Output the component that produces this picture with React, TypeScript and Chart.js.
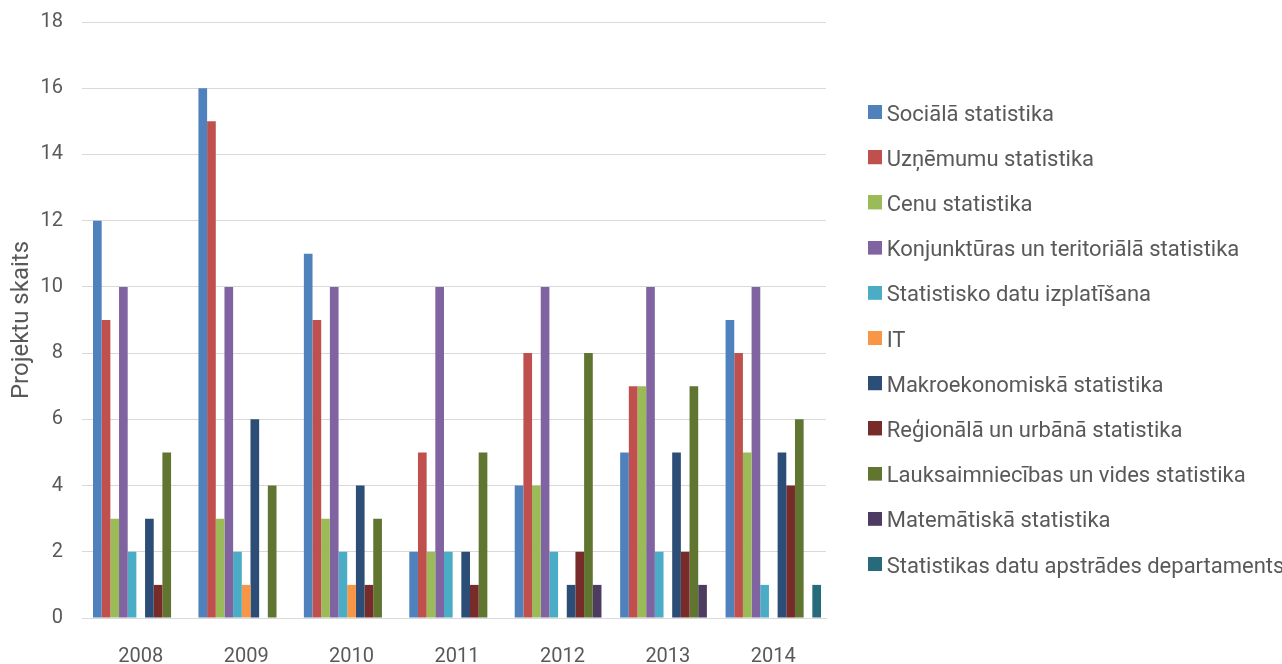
import React, { useEffect, useRef } from "react";
import { Chart, registerables } from "chart.js";

Chart.register(...registerables);

const years = ["2008", "2009", "2010", "2011", "2012", "2013", "2014"];

const seriesNames = [
  "Sociālā statistika",
  "Uzņēmumu statistika",
  "Cenu statistika",
  "Konjunktūras un teritoriālā statistika",
  "Statistisko datu izplatīšana",
  "IT",
  "Makroekonomiskā statistika",
  "Reģionālā un urbānā statistika",
  "Lauksaimniecības un vides statistika",
  "Matemātiskā statistika",
  "Statistikas datu apstrādes departaments",
];

const socialaStat = [12, 16, 11, 2, 4, 5, 9];
const uznemumuStat = [9, 15, 9, 5, 8, 7, 8];
const cenuStat = [3, 3, 3, 2, 4, 7, 5];
const konjunkturasStat = [10, 10, 10, 10, 10, 10, 10];
const datuIzplatisana = [2, 2, 2, 2, 2, 2, 1];
const itVals = [0, 1, 1, 0, 0, 0, 0];
const makroStat = [3, 6, 4, 2, 1, 5, 5];
const regionalaStat = [1, 0, 1, 1, 2, 2, 4];
const lauksaimStat = [5, 4, 3, 5, 8, 7, 6];
const matematiskaStat = [0, 0, 0, 0, 1, 1, 0];
const apstradesDep = [0, 0, 0, 0, 0, 0, 1];

const seriesValues = [
  socialaStat,
  uznemumuStat,
  cenuStat,
  konjunkturasStat,
  datuIzplatisana,
  itVals,
  makroStat,
  regionalaStat,
  lauksaimStat,
  matematiskaStat,
  apstradesDep,
];

const seriesColors = [
  "#4F81BD",
  "#C0504D",
  "#9BBB59",
  "#8064A2",
  "#4BACC6",
  "#F79646",
  "#2C4D75",
  "#772C2A",
  "#5F7530",
  "#4D3B62",
  "#276A7C",
];

const yTicks = { min: 0, max: 18, step: 2 };
const yTitle = "Projektu skaits";

const FONT = "Roboto, 'Noto Sans', sans-serif";
const TEXT = "#595959";
const GRID = "#D9D9D9";
const LEGEND_WIDTH = 430.5;

function makeSwatch(color: string): HTMLCanvasElement {
  const c = document.createElement("canvas");
  c.width = 14;
  c.height = 20;
  const g = c.getContext("2d")!;
  g.fillStyle = color;
  g.fillRect(0, 0, 14, 14);
  return c;
}

const legendFitPlugin = {
  id: "legendFit",
  beforeUpdate(chart: any) {
    const lg = chart.legend;
    if (lg && !lg.__patched) {
      const orig = lg.fit.bind(lg);
      lg.fit = function () {
        orig();
        this.width = LEGEND_WIDTH;
      };
      lg.__patched = true;
    }
  },
};

export default function App() {
  const ref = useRef<HTMLCanvasElement | null>(null);

  useEffect(() => {
    if (!ref.current) return;
    const swatches = seriesColors.map(makeSwatch);
    const chart = new Chart(ref.current, {
      type: "bar",
      data: {
        labels: years,
        datasets: seriesNames.map((name, i) => ({
          label: name,
          data: seriesValues[i],
          backgroundColor: seriesColors[i],
          borderWidth: 0,
          categoryPercentage: 0.905,
          barPercentage: 1,
        })),
      },
      plugins: [legendFitPlugin],
      options: {
        animation: false,
        responsive: true,
        maintainAspectRatio: false,
        layout: { padding: { top: 3, right: 0, bottom: 0, left: 0 } },
        plugins: {
          tooltip: { enabled: false },
          legend: {
            position: "right",
            align: "center",
            title: { display: true, text: " ", font: { size: 15, lineHeight: 1 }, padding: 0 },
            labels: {
              usePointStyle: true,
              pointStyleWidth: 1,
              boxHeight: 14,
              padding: 23.2,
              color: TEXT,
              font: { family: FONT, size: 22 },
              generateLabels: (ch: any) => {
                const items = Chart.defaults.plugins.legend.labels.generateLabels(ch);
                return items.map((it: any, i: number) => ({ ...it, pointStyle: swatches[i] }));
              },
            },
          },
        },
        scales: {
          x: {
            grid: { display: false, drawTicks: false },
            border: { display: true, color: GRID, width: 1 },
            ticks: {
              color: TEXT,
              font: { family: FONT, size: 20 },
              padding: 27,
            },
            afterFit: (s: any) => {
              s.height = 46;
            },
          },
          y: {
            min: yTicks.min,
            max: yTicks.max,
            ticks: {
              stepSize: yTicks.step,
              color: TEXT,
              font: { family: FONT, size: 20 },
              padding: 19,
            },
            grid: { color: GRID, lineWidth: 1, tickLength: 6, drawTicks: true },
            border: { display: false },
            title: {
              display: true,
              text: yTitle,
              color: TEXT,
              font: { family: FONT, size: 24 },
              padding: 8,
            },
            afterFit: (s: any) => {
              s.width = 88;
              s.paddingTop = 22;
            },
          },
          pad: {
            type: "linear",
            position: "right",
            display: true,
            grid: { display: false, drawTicks: false },
            border: { display: false },
            ticks: { display: false },
            afterFit: (s: any) => {
              s.width = 25.5;
            },
          },
        },
      } as any,
    });
    return () => chart.destroy();
  }, []);

  return (
    <div style={{ position: "fixed", left: 0, top: 0, width: 1282, height: 664 }}>
      <canvas ref={ref} />
    </div>
  );
}
